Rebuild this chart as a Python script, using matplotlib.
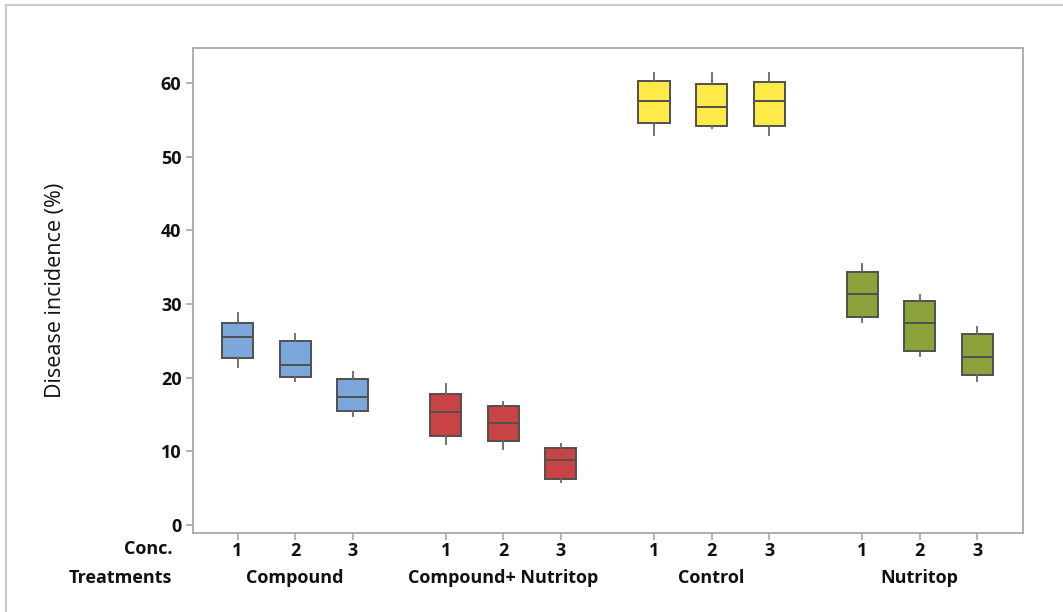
import matplotlib.pyplot as plt
from matplotlib.lines import Line2D

plt.rcParams['font.family'] = ['Open Sans', 'DejaVu Sans']

treatments = ['Compound', 'Compound+ Nutritop', 'Control', 'Nutritop']
conc = ['1', '2', '3']
colors = ['#7BA7DA', '#C84343', '#FFEA47', '#8BA33A']

# five-number summaries per treatment, one entry per concentration
whis_lo = [[21.4, 19.5, 14.8], [11.0, 10.3, 5.9], [53.0, 53.85, 53.0], [27.5, 22.9, 19.55]]
q1 = [[22.7, 20.05, 15.5], [12.1, 11.45, 6.2], [54.5, 54.15, 54.2], [28.2, 23.6, 20.3]]
med = [[25.5, 21.7, 17.4], [15.35, 13.8, 8.8], [57.5, 56.8, 57.5], [31.3, 27.4, 22.85]]
q3 = [[27.4, 25.0, 19.8], [17.8, 16.15, 10.45], [60.3, 59.9, 60.1], [34.3, 30.45, 25.9]]
whis_hi = [[28.8, 25.9, 20.8], [19.2, 16.7, 10.95], [61.3, 61.3, 61.3], [35.4, 31.2, 26.9]]

group_step = 3.62
edge = '#505050'
axis_grey = '#A8A8A8'
txt = '#111111'
fs = 13

fig = plt.figure(figsize=(10.63, 6.12), dpi=100)
ax = fig.add_axes([0.1818, 0.1286, 0.7803, 0.7935])

# light frame around the graph window
fig.add_artist(Line2D([6 / 1063, 6 / 1063], [0, 1 - 4.5 / 612], transform=fig.transFigure,
                      color='#CCCCCC', lw=1.5))
fig.add_artist(Line2D([6 / 1063, 1], [1 - 4.5 / 612, 1 - 4.5 / 612], transform=fig.transFigure,
                      color='#CCCCCC', lw=1.5))

positions = []
for g in range(len(treatments)):
    stats = []
    pos = []
    for c in range(len(conc)):
        stats.append(dict(whislo=whis_lo[g][c], q1=q1[g][c], med=med[g][c],
                          q3=q3[g][c], whishi=whis_hi[g][c], fliers=[]))
        pos.append(g * group_step + c)
    positions += pos
    ax.bxp(stats, positions=pos, widths=0.54, patch_artist=True, showcaps=False,
           boxprops=dict(facecolor=colors[g], edgecolor=edge, lw=1.4),
           medianprops=dict(color=edge, lw=1.4),
           whiskerprops=dict(color='#666666', lw=1.3))

ax.set_xlim(-0.77, 13.65)
ax.set_ylim(-1.13, 64.79)
ax.set_yticks(range(0, 61, 10))
ax.set_xticks(positions)
ax.set_xticklabels(conc * len(treatments))

for s in ax.spines.values():
    s.set_color(axis_grey)
    s.set_linewidth(1.3)
ax.tick_params(colors=axis_grey, width=1.2, length=5, labelcolor=txt, labelsize=fs)
ax.tick_params(axis='x', pad=1)
for lab in ax.get_xticklabels() + ax.get_yticklabels():
    lab.set_fontweight('bold')

ax.set_ylabel('Disease incidence (%)', fontsize=15.5, labelpad=68, color=txt)

for g, name in enumerate(treatments):
    ax.annotate(name, xy=(g * group_step + 1, 0), xycoords=('data', 'axes fraction'),
                xytext=(0, -45 * 0.72), textcoords='offset points',
                ha='center', va='center', fontsize=fs, fontweight='bold', color=txt)

ax.annotate('Conc.', xy=(0, 0), xycoords='axes fraction', xytext=(-21 * 0.72, -16 * 0.72),
            textcoords='offset points', ha='right', va='center', fontsize=fs,
            fontweight='bold', color=txt)
ax.annotate('Treatments', xy=(0, 0), xycoords='axes fraction', xytext=(-21 * 0.72, -45 * 0.72),
            textcoords='offset points', ha='right', va='center', fontsize=fs,
            fontweight='bold', color=txt)

fig.savefig('out.png', dpi=100)
